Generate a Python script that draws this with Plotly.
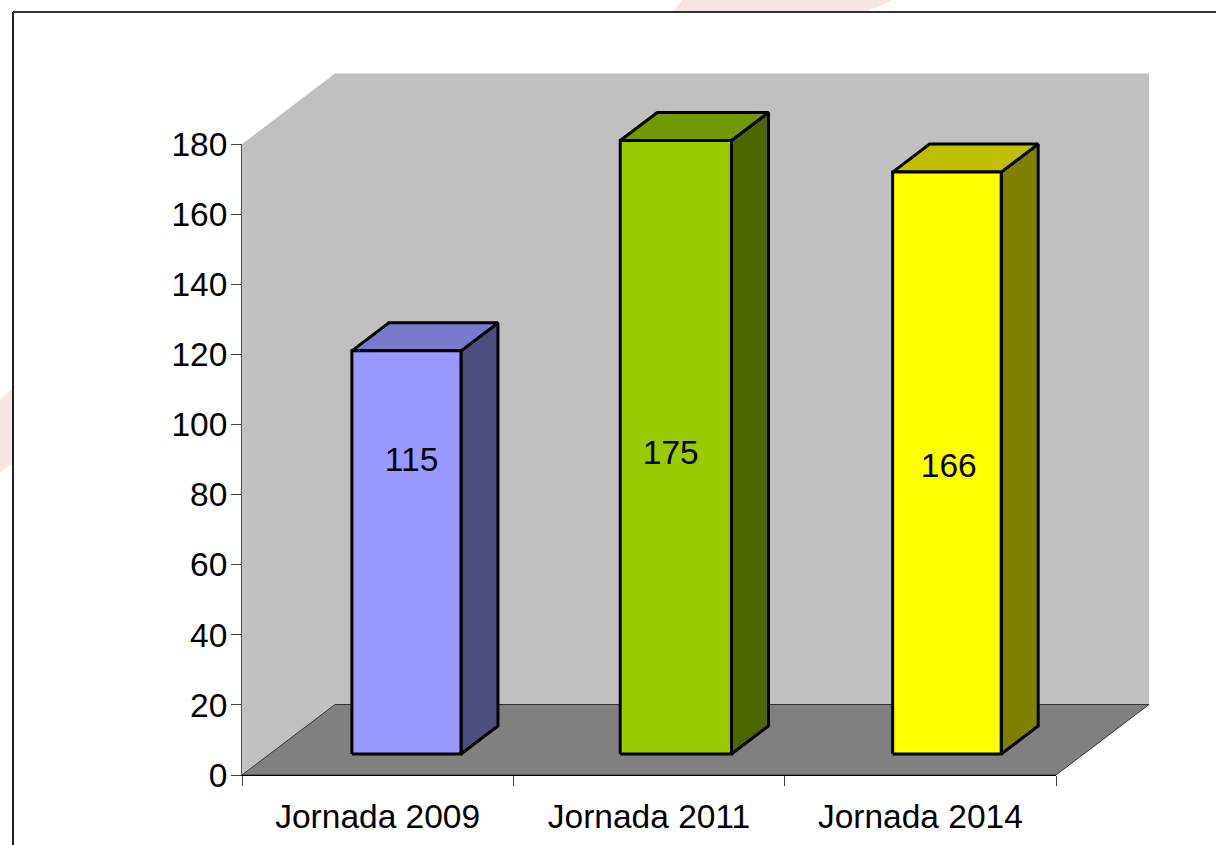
import plotly.graph_objects as go

# ---- data ----
categories = ["Jornada 2009", "Jornada 2011", "Jornada 2014"]
values = [115, 175, 166]
value_labels = ["115", "175", "166"]
y_ticks = [0, 20, 40, 60, 80, 100, 120, 140, 160, 180]

# ---- colours ----
front_colors = ["#9999ff", "#99cc00", "#ffff00"]
top_colors = ["#7a7acc", "#739900", "#bfbf00"]
side_colors = ["#4d4d80", "#4d6600", "#808000"]

# ---- geometry ----
W, H = 1216, 845
X0, X1 = 242, 1056      # pixel span of the category axis
Y0, Y180 = 775, 144     # pixel span of the value axis
CAT_PX = (X1 - X0) / 3
VAL_PX = (Y0 - Y180) / 180

DEPTH_X = 93 / CAT_PX   # wall depth, in axis units
DEPTH_Y = 70.5 / VAL_PX
BAR_DX = 37 / CAT_PX    # bar depth
BAR_DY = 28 / VAL_PX
BAR_BASE = 21 / VAL_PX  # bar foot above the axis baseline
BAR_SHIFT = [0.106, 0.099, 0.098]
BAR_HALF = [0.201, 0.205, 0.200]
LABEL_DX = [0.125, 0.08, 0.105]
LABEL_Y = [89.1, 91.1, 87.3]

x_lo = -0.5 - X0 / CAT_PX
x_hi = -0.5 + (W - X0) / CAT_PX
y_lo = -(H - Y0) / VAL_PX
y_hi = Y0 / VAL_PX

fig = go.Figure()


def poly(xs, ys, fill, line_color=None, line_width=0):
    fig.add_trace(go.Scatter(
        x=xs, y=ys, mode="lines", fill="toself", fillcolor=fill,
        line=dict(color=line_color or fill, width=line_width),
        hoverinfo="skip", showlegend=False, xaxis="x", yaxis="y"))


L, R, T = -0.5, 2.5, 180
# back wall (with the left side wall)
poly([L, L + DEPTH_X, R + DEPTH_X, R + DEPTH_X, L + DEPTH_X, L, L],
     [T, T + DEPTH_Y, T + DEPTH_Y, DEPTH_Y, DEPTH_Y, 0, T], "#c0c0c0")
# floor
poly([L, L + DEPTH_X, R + DEPTH_X, R, L],
     [0, DEPTH_Y, DEPTH_Y, 0, 0], "#808080", "#333333", 1)

# bars
for i, v in enumerate(values):
    c = i + BAR_SHIFT[i]
    a, b = c - BAR_HALF[i], c + BAR_HALF[i]
    y1, y2 = BAR_BASE, BAR_BASE + v
    poly([b, b + BAR_DX, b + BAR_DX, b, b],
         [y1, y1 + BAR_DY, y2 + BAR_DY, y2, y1], side_colors[i], "#000000", 3)
    poly([a, a + BAR_DX, b + BAR_DX, b, a],
         [y2, y2 + BAR_DY, y2 + BAR_DY, y2, y2], top_colors[i], "#000000", 3)
    poly([a, b, b, a, a], [y1, y1, y2, y2, y1], front_colors[i], "#000000", 3)

# value labels
fig.add_trace(go.Scatter(
    x=[i + d for i, d in enumerate(LABEL_DX)], y=LABEL_Y, mode="text",
    text=value_labels, textposition="middle center",
    textfont=dict(family="Liberation Sans", size=33.5, color="#000000"),
    hoverinfo="skip", showlegend=False, xaxis="x", yaxis="y"))

# invisible trace that brings up the visible axes
fig.add_trace(go.Scatter(
    x=categories, y=values, mode="markers", marker=dict(opacity=0),
    hoverinfo="skip", showlegend=False, xaxis="x2", yaxis="y2"))


def px_path(points):
    return "M " + " L ".join(f"{x / W:.4f} {1 - y / H:.4f}" for x, y in points) + " Z"


# frame and faint page decoration
shapes = [
    dict(type="path", xref="paper", yref="paper", layer="below",
         path=px_path([(682, 0), (893, 0), (867, 11.5), (673, 11.5)]),
         fillcolor="#f8e6e4", line=dict(width=0)),
    dict(type="path", xref="paper", yref="paper", layer="below",
         path=px_path([(0, 400), (13, 388), (13, 463), (0, 473)]),
         fillcolor="#f8e6e4", line=dict(width=0)),
    dict(type="line", xref="paper", yref="paper", x0=13 / W, x1=13 / W,
         y0=0, y1=1 - 12 / H, line=dict(color="#222222", width=2), layer="above"),
    dict(type="line", xref="paper", yref="paper", x0=13 / W, x1=1,
         y0=1 - 12 / H, y1=1 - 12 / H, line=dict(color="#333333", width=2), layer="above"),
]

font = dict(family="Liberation Sans", size=33.5, color="#000000")
fig.update_layout(
    width=W, height=H, margin=dict(l=0, r=0, t=0, b=0, pad=0, autoexpand=False), autosize=False,
    paper_bgcolor="#ffffff", plot_bgcolor="rgba(0,0,0,0)", showlegend=False,
    shapes=shapes,
    xaxis=dict(domain=[0, 1], range=[x_lo, x_hi], visible=False, fixedrange=True),
    yaxis=dict(domain=[0, 1], range=[y_lo, y_hi], visible=False, fixedrange=True),
    xaxis2=dict(domain=[X0 / W, X1 / W], anchor="y2", type="category",
                categoryorder="array", categoryarray=categories,
                range=[-0.5, 2.5], tickson="boundaries", ticks="outside",
                ticklen=10, tickcolor="#444444", tickwidth=1,
                showline=True, linecolor="#000000", linewidth=1,
                showgrid=False, zeroline=False, tickfont=font, fixedrange=True,
                ticklabelstandoff=12),
    yaxis2=dict(domain=[1 - Y0 / H, 1 - Y180 / H], anchor="x2", range=[0, 180],
                tickmode="array", tickvals=y_ticks, ticks="outside", ticklen=10,
                tickcolor="#444444", tickwidth=1, showline=True,
                linecolor="#555555", linewidth=1, showgrid=False, zeroline=False,
                tickfont=font, fixedrange=True, ticklabelstandoff=-3),
)

fig.write_html("out.html", config=dict(displayModeBar=False),
               post_script="document.body.style.margin='0';document.body.style.overflow='hidden';")
